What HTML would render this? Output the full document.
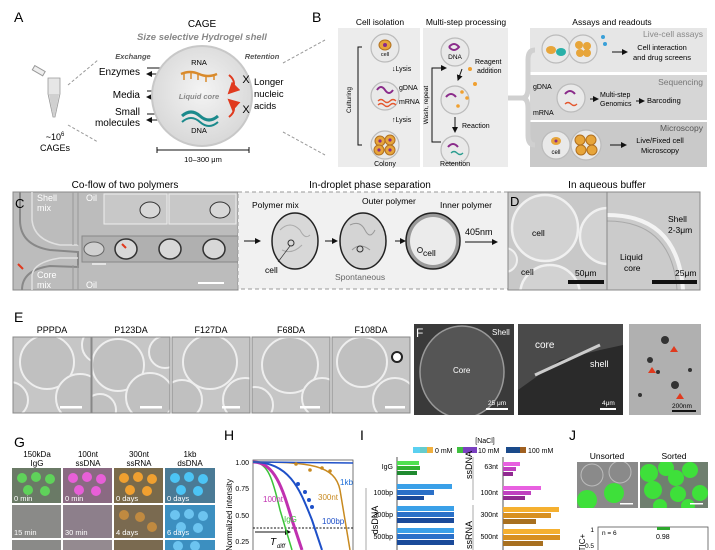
<!DOCTYPE html>
<html><head><meta charset="utf-8"><style>
html,body{margin:0;padding:0;background:#fff;}
svg{display:block;font-family:"Liberation Sans",Arial,sans-serif;}
</style></head><body>
<svg width="715" height="550" viewBox="0 0 715 550" xmlns="http://www.w3.org/2000/svg">
<defs>
<marker id="ah" markerWidth="6" markerHeight="6" refX="5" refY="3" orient="auto"><path d="M0,0 L6,3 L0,6 z" fill="#111"/></marker>
<marker id="ahr" markerWidth="6" markerHeight="6" refX="5" refY="3" orient="auto"><path d="M0,0 L6,3 L0,6 z" fill="#e03a1e"/></marker>
<radialGradient id="cg" cx="50%" cy="45%" r="55%"><stop offset="0" stop-color="#f4f4f4"/><stop offset="1" stop-color="#d8d8d8"/></radialGradient>
<clipPath id="cD1"><rect x="508" y="192" width="99" height="98"/></clipPath>
<clipPath id="cD2"><rect x="607" y="192" width="93" height="98"/></clipPath>
<clipPath id="cE1"><rect x="13" y="337" width="78" height="76"/></clipPath>
<clipPath id="cE2"><rect x="92" y="337" width="78" height="76"/></clipPath>
<clipPath id="cE3"><rect x="172" y="337" width="78" height="76"/></clipPath>
<clipPath id="cE4"><rect x="252" y="337" width="78" height="76"/></clipPath>
<clipPath id="cE5"><rect x="332" y="337" width="78" height="76"/></clipPath>
<clipPath id="cF1"><rect x="414" y="324" width="100" height="91"/></clipPath>
<clipPath id="cG"><rect x="12" y="468" width="203" height="82"/></clipPath>
<clipPath id="cJ1"><rect x="577" y="462" width="61" height="46"/></clipPath>
<clipPath id="cJ2"><rect x="640" y="462" width="68" height="46"/></clipPath>
</defs>

<!-- ===== Panel A ===== -->
<text x="14" y="22" font-size="14">A</text>
<text x="202" y="27" font-size="10" text-anchor="middle">CAGE</text>
<text x="202" y="40" font-size="9.5" text-anchor="middle" font-style="italic" font-weight="bold" fill="#888">Size selective Hydrogel shell</text>
<g transform="translate(38,72)">
<rect x="-6" y="-4" width="12" height="5" fill="#eee" stroke="#999" transform="rotate(30)"/>
<path d="M10,6 L22,6 L22,22 L17,45 L15,45 L10,22 Z" fill="#e6e6e6" stroke="#999" stroke-width="0.8"/>
<path d="M11,22 L21,22 L17,44 L15,44 Z" fill="#d0d0d0"/>
</g>
<text x="55" y="140" font-size="9" text-anchor="middle">~10<tspan font-size="6" dy="-4">6</tspan></text>
<text x="55" y="151" font-size="9" text-anchor="middle">CAGEs</text>
<line x1="68" y1="85" x2="98" y2="60" stroke="#999" stroke-dasharray="3,2"/>
<line x1="68" y1="125" x2="98" y2="142" stroke="#999" stroke-dasharray="3,2"/>
<text x="133" y="59" font-size="7.5" font-style="italic" font-weight="bold" fill="#555" text-anchor="middle">Exchange</text>
<text x="262" y="59" font-size="7.5" font-style="italic" font-weight="bold" fill="#555" text-anchor="middle">Retention</text>
<text x="140" y="75" font-size="10" text-anchor="end">Enzymes</text>
<text x="140" y="98" font-size="10" text-anchor="end">Media</text>
<text x="140" y="115" font-size="10" text-anchor="end">Small</text>
<text x="140" y="126" font-size="10" text-anchor="end">molecules</text>
<g stroke="#111" stroke-width="1">
<line x1="147" y1="68" x2="170" y2="68" marker-end="url(#ah)"/><line x1="170" y1="74" x2="147" y2="74" marker-end="url(#ah)"/>
<line x1="147" y1="91" x2="170" y2="91" marker-end="url(#ah)"/><line x1="170" y1="97" x2="147" y2="97" marker-end="url(#ah)"/>
<line x1="147" y1="114" x2="170" y2="114" marker-end="url(#ah)"/><line x1="170" y1="120" x2="147" y2="120" marker-end="url(#ah)"/>
</g>
<circle cx="202" cy="96" r="50" fill="url(#cg)" stroke="#c8c8c8" stroke-width="2"/>
<text x="199" y="65" font-size="7.5" text-anchor="middle">RNA</text>
<path d="M181,74 q9,-4 18,0 q9,4 18,0" fill="none" stroke="#d98a2b" stroke-width="2.5"/>
<g stroke="#d98a2b" stroke-width="1.5"><line x1="184" y1="74" x2="184" y2="80"/><line x1="191" y1="73" x2="191" y2="79"/><line x1="198" y1="74" x2="198" y2="80"/><line x1="206" y1="76" x2="206" y2="82"/><line x1="214" y1="74" x2="214" y2="80"/></g>
<text x="199" y="99" font-size="7.5" font-style="italic" font-weight="bold" fill="#888" text-anchor="middle">Liquid core</text>
<path d="M182,116 q9,-8 18,0 q9,8 18,0" fill="none" stroke="#1b8a8c" stroke-width="3"/>
<path d="M182,122 q9,-8 18,0 q9,8 18,0" fill="none" stroke="#1b8a8c" stroke-width="2"/>
<text x="199" y="133" font-size="7.5" text-anchor="middle">DNA</text>
<path d="M229,75 q10,8 0,18" fill="none" stroke="#e03a1e" stroke-width="2" marker-end="url(#ahr)"/>
<path d="M229,117 q10,-8 0,-17" fill="none" stroke="#e03a1e" stroke-width="2" marker-end="url(#ahr)"/>
<text x="246" y="83" font-size="11" text-anchor="middle">X</text>
<text x="246" y="113" font-size="11" text-anchor="middle">X</text>
<text x="254" y="85" font-size="9.5">Longer</text>
<text x="254" y="97" font-size="9.5">nucleic</text>
<text x="254" y="109" font-size="9.5">acids</text>
<g stroke="#111"><line x1="157" y1="150" x2="249" y2="150"/><line x1="157" y1="147" x2="157" y2="153"/><line x1="249" y1="147" x2="249" y2="153"/></g>
<text x="203" y="162" font-size="7.5" text-anchor="middle">10–300 μm</text>
<line x1="283" y1="63" x2="325" y2="40" stroke="#999" stroke-dasharray="3,2"/>
<line x1="283" y1="132" x2="325" y2="155" stroke="#999" stroke-dasharray="3,2"/>

<!-- ===== Panel B ===== -->
<text x="312" y="22" font-size="14">B</text>
<text x="380" y="25" font-size="8.5" text-anchor="middle">Cell isolation</text>
<text x="466" y="25" font-size="8.5" text-anchor="middle">Multi-step processing</text>
<text x="612" y="25" font-size="8.5" text-anchor="middle">Assays and readouts</text>
<rect x="338" y="28" width="82" height="139" fill="#ececec"/>
<rect x="423" y="28" width="85" height="139" fill="#ececec"/>
<rect x="530" y="28" width="177" height="44" fill="#e6e6e6"/>
<rect x="530" y="75" width="177" height="45" fill="#d6d6d6"/>
<rect x="530" y="122" width="177" height="45" fill="#c9c9c9"/>
<path d="M362,47 L358,47 L358,145 L362,145" fill="none" stroke="#111"/>
<text x="351" y="100" font-size="6.5" text-anchor="middle" transform="rotate(-90 351 100)">Culturing</text>
<g fill="#e9e9e9" stroke="#bbb" stroke-width="1.2">
<circle cx="385" cy="48" r="14"/><circle cx="385" cy="96" r="14"/><circle cx="385" cy="145" r="14"/>
<circle cx="455" cy="52" r="14"/><circle cx="455" cy="100" r="14"/><circle cx="455" cy="150" r="14"/>
<circle cx="556" cy="49" r="14"/><circle cx="583" cy="49" r="14"/>
<circle cx="571" cy="98" r="14"/>
<circle cx="556" cy="145" r="14"/><circle cx="586" cy="145" r="15"/>
</g>
<ellipse cx="385" cy="45" rx="6" ry="5" fill="#e7a53a" stroke="#b07020"/><circle cx="385" cy="45" r="2" fill="#8a2b8a"/>
<text x="385" y="56" font-size="5.5" text-anchor="middle">cell</text>
<text x="392" y="71" font-size="7">↓Lysis</text>
<path d="M377,90 q4,-6 8,0 q4,6 8,0" fill="none" stroke="#8a2b8a" stroke-width="2"/>
<path d="M378,101 q3,-3 6,0 q3,3 6,0 q3,-3 6,0" fill="none" stroke="#e4572e" stroke-width="1.3"/>
<path d="M378,105 q3,-3 6,0 q3,3 6,0 q3,-3 6,0" fill="none" stroke="#e4572e" stroke-width="1.3"/>
<text x="399" y="90" font-size="7">gDNA</text>
<text x="399" y="104" font-size="7">mRNA</text>
<text x="392" y="122" font-size="7">↑Lysis</text>
<g fill="#e7a53a" stroke="#b07020"><circle cx="380" cy="141" r="5"/><circle cx="390" cy="140" r="5"/><circle cx="379" cy="150" r="5"/><circle cx="390" cy="150" r="5"/></g>
<g fill="#8a2b8a"><circle cx="380" cy="141" r="1.6"/><circle cx="390" cy="140" r="1.6"/><circle cx="379" cy="150" r="1.6"/><circle cx="390" cy="150" r="1.6"/></g>
<text x="385" y="166" font-size="7" text-anchor="middle">Colony</text>
<path d="M449,47 q5,-6 10,0 q-5,6 -10,0" fill="none" stroke="#8a2b8a" stroke-width="2"/>
<text x="455" y="59" font-size="6.5" text-anchor="middle">DNA</text>
<text x="475" y="64" font-size="7">Reagent</text>
<text x="477" y="73" font-size="7">addition</text>
<path d="M446,97 q5,-6 10,0" fill="none" stroke="#8a2b8a" stroke-width="2"/>
<g fill="#f0a030"><circle cx="462" cy="92" r="1.8"/><circle cx="467" cy="98" r="1.8"/><circle cx="458" cy="106" r="1.8"/><circle cx="470" cy="69" r="2"/><circle cx="475" cy="84" r="2"/></g>
<line x1="462" y1="69" x2="458" y2="80" stroke="#111" marker-end="url(#ah)"/>
<line x1="455" y1="117" x2="455" y2="132" stroke="#111" marker-end="url(#ah)"/>
<text x="462" y="128" font-size="7">Reaction</text>
<path d="M448,147 q5,-6 10,0" fill="none" stroke="#8a2b8a" stroke-width="2"/>
<path d="M451,153 q3,-3 6,0 q3,3 6,0" fill="none" stroke="#2a9d8f" stroke-width="1.3"/>
<text x="455" y="166" font-size="7" text-anchor="middle">Retention</text>
<path d="M441,142 L432,142 L432,68 L446,68" fill="none" stroke="#111" marker-end="url(#ah)"/>
<text x="428" y="105" font-size="6.5" text-anchor="middle" transform="rotate(-90 428 105)">Wash, repeat</text>
<path d="M508,98 L522,98 Q528,98 528,88 L528,60 Q528,50 535,50 M522,98 Q528,98 528,108 L528,135 Q528,145 535,145" fill="none" stroke="#d0d0d0" stroke-width="5"/>
<text x="703" y="37" font-size="8.5" text-anchor="end" fill="#888">Live-cell assays</text>
<ellipse cx="551" cy="50" rx="5" ry="4" fill="#e7a53a"/><ellipse cx="561" cy="52" rx="5" ry="4" fill="#2ab0a8"/>
<g fill="#e7a53a"><circle cx="579" cy="45" r="4"/><circle cx="587" cy="46" r="4"/><circle cx="580" cy="53" r="4"/><circle cx="587" cy="53" r="4"/></g>
<circle cx="603" cy="37" r="2" fill="#39a0d8"/><circle cx="605" cy="44" r="2" fill="#39a0d8"/>
<line x1="612" y1="52" x2="627" y2="52" stroke="#111" marker-end="url(#ah)"/>
<text x="662" y="50" font-size="7.5" text-anchor="middle">Cell interaction</text>
<text x="662" y="60" font-size="7.5" text-anchor="middle">and drug screens</text>
<text x="703" y="85" font-size="8.5" text-anchor="end" fill="#777">Sequencing</text>
<text x="533" y="89" font-size="7">gDNA</text>
<text x="533" y="115" font-size="7">mRNA</text>
<path d="M565,94 q5,-6 10,0" fill="none" stroke="#8a2b8a" stroke-width="2"/>
<path d="M565,104 q3,-3 6,0 q3,3 6,0" fill="none" stroke="#e4572e" stroke-width="1.3"/>
<line x1="590" y1="99" x2="598" y2="99" stroke="#111" marker-end="url(#ah)"/>
<text x="600" y="97" font-size="7">Multi-step</text>
<text x="600" y="106" font-size="7">Genomics</text>
<line x1="636" y1="101" x2="644" y2="101" stroke="#111" marker-end="url(#ah)"/>
<text x="647" y="103" font-size="7.5">Barcoding</text>
<text x="703" y="131" font-size="8.5" text-anchor="end" fill="#555">Microscopy</text>
<ellipse cx="556" cy="141" rx="5" ry="4" fill="#e7a53a"/><circle cx="556" cy="141" r="1.5" fill="#8a2b8a"/>
<text x="556" y="154" font-size="6" text-anchor="middle">cell</text>
<g fill="#e7a53a" stroke="#b07020"><circle cx="580" cy="140" r="5"/><circle cx="591" cy="140" r="5"/><circle cx="581" cy="150" r="5"/><circle cx="592" cy="150" r="5"/></g>
<line x1="610" y1="145" x2="626" y2="145" stroke="#111" marker-end="url(#ah)"/>
<text x="660" y="143" font-size="7.5" text-anchor="middle">Live/Fixed cell</text>
<text x="660" y="153" font-size="7.5" text-anchor="middle">Microscopy</text>

<!-- ===== Row C/D ===== -->
<text x="125" y="188" font-size="10" text-anchor="middle">Co-flow of two polymers</text>
<text x="370" y="188" font-size="10" text-anchor="middle">In-droplet phase separation</text>
<text x="607" y="188" font-size="10" text-anchor="middle">In aqueous buffer</text>
<rect x="13" y="192" width="225" height="98" fill="#bcbcbc" stroke="#888"/>
<path d="M20,192 L20,220 Q20,245 50,250 L78,252 L78,267 L50,266 Q22,270 22,290" fill="none" stroke="#888" stroke-width="2"/>
<path d="M32,192 L32,220 Q34,240 60,245 L78,245 M32,290 L32,275 Q34,262 60,258 L78,258" fill="none" stroke="#e0e0e0" stroke-width="1.5"/>
<line x1="73" y1="192" x2="73" y2="245" stroke="#999"/><line x1="78" y1="192" x2="78" y2="245" stroke="#999"/>
<line x1="73" y1="265" x2="73" y2="290" stroke="#999"/><line x1="78" y1="265" x2="78" y2="290" stroke="#999"/>
<rect x="82" y="236" width="156" height="26" fill="#b0b0b0" stroke="#888"/>
<ellipse cx="94" cy="249" rx="10" ry="7" fill="#d0d0d0" stroke="#666"/>
<ellipse cx="126" cy="249" rx="11" ry="10" fill="#d8d8d8" stroke="#333" stroke-width="1.5"/>
<ellipse cx="170" cy="249" rx="11" ry="10" fill="#d8d8d8" stroke="#333" stroke-width="1.5"/>
<ellipse cx="214" cy="249" rx="11" ry="10" fill="#d8d8d8" stroke="#333" stroke-width="1.5"/>
<rect x="104" y="194" width="63" height="30" fill="#c8c8c8" stroke="#eee"/>
<rect x="169" y="194" width="67" height="30" fill="#c8c8c8" stroke="#eee"/>
<ellipse cx="150" cy="210" rx="10" ry="8" fill="#d8d8d8" stroke="#333"/>
<ellipse cx="220" cy="210" rx="10" ry="8" fill="#d8d8d8" stroke="#333"/>
<text x="15" y="208" font-size="13">C</text>
<text x="37" y="201" font-size="9" fill="#fff">Shell</text><text x="37" y="211" font-size="9" fill="#fff">mix</text>
<text x="37" y="278" font-size="9" fill="#fff">Core</text><text x="37" y="288" font-size="9" fill="#fff">mix</text>
<text x="86" y="201" font-size="9" fill="#fff">Oil</text><text x="86" y="288" font-size="9" fill="#fff">Oil</text>
<line x1="92" y1="264" x2="106" y2="264" stroke="#fff" stroke-width="1.2"/>
<line x1="198" y1="283" x2="224" y2="283" stroke="#fff" stroke-width="2"/>
<path d="M18,264 l5,5" stroke="#e03a1e" stroke-width="2"/><path d="M122,244 l4,4" stroke="#e03a1e" stroke-width="2"/>
<rect x="238" y="192" width="270" height="97" fill="#f1f1f1" stroke="#999" stroke-dasharray="4,3"/>
<text x="252" y="208" font-size="8.5">Polymer mix</text>
<text x="362" y="204" font-size="8.5">Outer polymer</text>
<text x="440" y="208" font-size="8.5">Inner polymer</text>
<ellipse cx="295" cy="241" rx="23" ry="28" fill="#d8d8d8" stroke="#222" stroke-width="1.5"/>
<path d="M280,230 q10,-10 20,0 q5,10 10,5 M282,250 q10,5 20,-5" fill="none" stroke="#aaa"/>
<circle cx="291" cy="243" r="3" fill="none" stroke="#333"/>
<line x1="290" y1="246" x2="278" y2="262" stroke="#333" stroke-width="0.7"/>
<text x="265" y="273" font-size="8.5">cell</text>
<ellipse cx="363" cy="241" rx="23" ry="28" fill="#d4d4d4" stroke="#222" stroke-width="1.5"/>
<path d="M350,225 q10,-5 15,5 q5,10 10,0 M352,250 q8,-8 18,0" fill="none" stroke="#999"/>
<circle cx="360" cy="249" r="3" fill="none" stroke="#333"/>
<ellipse cx="433" cy="241" rx="27" ry="28" fill="#9a9a9a" stroke="#222" stroke-width="1.5"/>
<ellipse cx="433" cy="241" rx="23" ry="24" fill="#ebebeb"/>
<circle cx="420" cy="250" r="2.5" fill="none" stroke="#333"/>
<text x="423" y="256" font-size="8.5">cell</text>
<line x1="244" y1="241" x2="260" y2="241" stroke="#111" marker-end="url(#ah)"/>
<line x1="325" y1="241" x2="337" y2="241" stroke="#111" marker-end="url(#ah)"/>
<line x1="395" y1="241" x2="405" y2="241" stroke="#111" marker-end="url(#ah)"/>
<text x="465" y="235" font-size="9">405nm</text>
<line x1="465" y1="242" x2="497" y2="242" stroke="#111" marker-end="url(#ah)"/>
<text x="335" y="280" font-size="8.5" fill="#666">Spontaneous</text>
<!-- D -->
<rect x="508" y="192" width="99" height="98" fill="#c8c8c8"/>
<g clip-path="url(#cD1)">
<circle cx="545" cy="228" r="33" fill="#d2d2d2" stroke="#f0f0f0" stroke-width="2.5"/>
<circle cx="608" cy="236" r="28" fill="#d2d2d2" stroke="#f0f0f0" stroke-width="2.5"/>
<circle cx="550" cy="295" r="30" fill="#d2d2d2" stroke="#f0f0f0" stroke-width="2.5"/>
<circle cx="505" cy="260" r="12" fill="#d2d2d2" stroke="#f0f0f0" stroke-width="2"/>
</g>
<rect x="607" y="192" width="93" height="98" fill="#cbcbcb"/>
<g clip-path="url(#cD2)">
<path d="M607,215 Q678,215 683,290" fill="none" stroke="#f3f3f3" stroke-width="4"/>
<path d="M607,221 Q672,221 677,290" fill="none" stroke="#a9a9a9" stroke-width="1"/>
</g>
<rect x="508" y="192" width="192" height="98" fill="none" stroke="#888"/>
<line x1="607" y1="192" x2="607" y2="290" stroke="#888"/>
<text x="510" y="206" font-size="13">D</text>
<text x="532" y="236" font-size="8.5">cell</text>
<text x="521" y="275" font-size="8.5">cell</text>
<text x="575" y="276" font-size="8.5">50μm</text>
<rect x="568" y="280" width="36" height="4" fill="#111"/>
<text x="668" y="222" font-size="8.5">Shell</text><text x="668" y="233" font-size="8.5">2-3μm</text>
<text x="620" y="260" font-size="8.5">Liquid</text><text x="624" y="271" font-size="8.5">core</text>
<text x="675" y="276" font-size="8.5">25μm</text>
<rect x="652" y="280" width="45" height="4" fill="#111"/>

<!-- ===== Row E/F ===== -->
<text x="14" y="322" font-size="14">E</text>
<g font-size="9" text-anchor="middle">
<text x="52" y="333">PPPDA</text><text x="131" y="333">P123DA</text><text x="211" y="333">F127DA</text><text x="291" y="333">F68DA</text><text x="371" y="333">F108DA</text>
</g>
<g fill="#c6c6c6">
<rect x="13" y="337" width="78" height="76"/><rect x="92" y="337" width="78" height="76"/><rect x="172" y="337" width="78" height="76"/><rect x="252" y="337" width="78" height="76"/><rect x="332" y="337" width="78" height="76"/>
</g>
<g fill="#c0c0c0" stroke="#eee" stroke-width="2">
<g clip-path="url(#cE1)"><circle cx="47" cy="362" r="27"/><circle cx="80" cy="398" r="24"/><circle cx="100" cy="345" r="18"/><circle cx="10" cy="400" r="18"/></g>
<g clip-path="url(#cE2)"><circle cx="118" cy="365" r="26"/><circle cx="150" cy="397" r="24"/><circle cx="165" cy="352" r="16"/><circle cx="100" cy="410" r="16"/></g>
<g clip-path="url(#cE3)"><circle cx="210" cy="362" r="27"/><circle cx="182" cy="400" r="20"/><circle cx="245" cy="400" r="22"/></g>
<g clip-path="url(#cE4)"><circle cx="290" cy="365" r="28"/><circle cx="322" cy="398" r="20"/><circle cx="255" cy="405" r="18"/></g>
<g clip-path="url(#cE5)"><circle cx="362" cy="362" r="25"/><circle cx="395" cy="400" r="22"/></g>
</g>
<rect x="13" y="337" width="78" height="76" fill="none" stroke="#888"/><rect x="92" y="337" width="78" height="76" fill="none" stroke="#888"/><rect x="172" y="337" width="78" height="76" fill="none" stroke="#888"/><rect x="252" y="337" width="78" height="76" fill="none" stroke="#888"/><rect x="332" y="337" width="78" height="76" fill="none" stroke="#888"/>
<circle cx="397" cy="357" r="5" fill="#fff" stroke="#222" stroke-width="2"/>
<g fill="#fff"><rect x="60" y="406" width="22" height="2.5"/><rect x="140" y="406" width="22" height="2.5"/><rect x="222" y="406" width="18" height="2.5"/><rect x="300" y="406" width="20" height="2.5"/><rect x="385" y="406" width="20" height="2.5"/></g>
<rect x="414" y="324" width="100" height="91" fill="#3a3a3a"/>
<g clip-path="url(#cF1)"><ellipse cx="462" cy="372" rx="42" ry="46" fill="#555" stroke="#999" stroke-width="1.5"/></g>
<rect x="518" y="324" width="105" height="91" fill="#4a4a4a"/>
<path d="M518,390 L560,360 L600,350 L623,345 L623,415 L518,415 Z" fill="#2a2a2a"/>
<path d="M535,375 L600,345" stroke="#ccc" stroke-width="3"/>
<rect x="629" y="324" width="72" height="91" fill="#b0b0b0"/>
<g fill="#333"><circle cx="650" cy="360" r="3"/><circle cx="665" cy="340" r="4"/><circle cx="675" cy="385" r="4"/><circle cx="640" cy="395" r="2"/><circle cx="690" cy="370" r="2"/><circle cx="658" cy="372" r="2"/></g>
<g fill="#e03a1e"><path d="M670,352 l4,-6 l4,6 z"/><path d="M648,373 l4,-6 l4,6 z"/><path d="M676,399 l4,-6 l4,6 z"/></g>
<text x="416" y="337" font-size="12" fill="#fff">F</text>
<text x="492" y="335" font-size="8" fill="#fff">Shell</text>
<text x="453" y="373" font-size="8" fill="#fff">Core</text>
<text x="535" y="348" font-size="10" fill="#fff">core</text>
<text x="590" y="367" font-size="9" fill="#fff">shell</text>
<text x="488" y="405" font-size="6.5" fill="#fff">25 μm</text><rect x="486" y="408" width="22" height="2" fill="#fff"/>
<text x="602" y="405" font-size="6.5" fill="#fff">4μm</text><rect x="600" y="408" width="16" height="2" fill="#fff"/>
<text x="672" y="408" font-size="6.5">200nm</text><rect x="672" y="410" width="24" height="2" fill="#111"/>

<!-- ===== Row G ===== -->
<text x="14" y="447" font-size="14">G</text>
<g font-size="8" text-anchor="middle">
<text x="37" y="457">150kDa</text><text x="37" y="466">IgG</text>
<text x="88" y="457">100nt</text><text x="88" y="466">ssDNA</text>
<text x="139" y="457">300nt</text><text x="139" y="466">ssRNA</text>
<text x="190" y="457">1kb</text><text x="190" y="466">dsDNA</text>
</g>
<g clip-path="url(#cG)">
<rect x="12" y="468" width="49" height="35" fill="#6a7a66"/><rect x="63" y="468" width="49" height="35" fill="#8a6a82"/><rect x="114" y="468" width="49" height="35" fill="#7a6a4a"/><rect x="165" y="468" width="50" height="35" fill="#4a7a95"/>
<rect x="12" y="505" width="49" height="33" fill="#8a8a88"/><rect x="63" y="505" width="49" height="33" fill="#8d7f8b"/><rect x="114" y="505" width="49" height="33" fill="#7a6a50"/><rect x="165" y="505" width="50" height="33" fill="#3c8fc0"/>
<rect x="12" y="540" width="49" height="10" fill="#8a8a88"/><rect x="63" y="540" width="49" height="10" fill="#948a90"/><rect x="114" y="540" width="49" height="10" fill="#7a6a50"/><rect x="165" y="540" width="50" height="10" fill="#3c8fc0"/>
<g fill="#5fd25a"><circle cx="22" cy="478" r="5"/><circle cx="36" cy="477" r="5"/><circle cx="50" cy="479" r="5"/><circle cx="28" cy="490" r="5"/><circle cx="45" cy="491" r="5"/></g>
<g fill="#e85fd8"><circle cx="73" cy="478" r="5"/><circle cx="87" cy="477" r="5"/><circle cx="101" cy="479" r="5"/><circle cx="79" cy="490" r="5"/><circle cx="96" cy="491" r="5"/></g>
<g fill="#f0a030"><circle cx="124" cy="478" r="5"/><circle cx="138" cy="477" r="5"/><circle cx="152" cy="479" r="5"/><circle cx="130" cy="490" r="5"/><circle cx="147" cy="491" r="5"/></g>
<g fill="#4cc4f5"><circle cx="175" cy="478" r="5"/><circle cx="189" cy="477" r="5"/><circle cx="203" cy="479" r="5"/><circle cx="181" cy="490" r="5"/><circle cx="198" cy="491" r="5"/></g>
<g fill="#6cc4f0"><circle cx="175" cy="515" r="5"/><circle cx="189" cy="514" r="5"/><circle cx="203" cy="516" r="5"/><circle cx="181" cy="527" r="5"/><circle cx="198" cy="528" r="5"/><circle cx="178" cy="546" r="5"/><circle cx="195" cy="546" r="5"/></g>
<g fill="#c08a40"><circle cx="124" cy="515" r="5"/><circle cx="140" cy="517" r="5"/><circle cx="152" cy="527" r="5"/></g>
</g>
<g font-size="7.5" fill="#fff"><text x="14" y="501">0 min</text><text x="65" y="501">0 min</text><text x="116" y="501">0 days</text><text x="167" y="501">0 days</text>
<text x="14" y="535">15 min</text><text x="65" y="535">30 min</text><text x="116" y="535">4 days</text><text x="167" y="535">6 days</text></g>

<!-- ===== H ===== -->
<text x="224" y="440" font-size="14">H</text>
<rect x="253" y="460" width="100" height="95" fill="none" stroke="#555" stroke-width="0.8"/>
<g font-size="7" text-anchor="end"><text x="249" y="465">1.00</text><text x="249" y="491">0.75</text><text x="249" y="518">0.50</text><text x="249" y="544">0.25</text></g>
<text x="232" y="515" font-size="8" text-anchor="middle" transform="rotate(-90 232 515)">Normalized intensity</text>
<line x1="253" y1="528" x2="353" y2="528" stroke="#111" stroke-dasharray="2,1.5"/>
<line x1="255" y1="532" x2="290" y2="532" stroke="#111" marker-end="url(#ah)"/>
<text x="270" y="545" font-size="10" font-style="italic">T</text><text x="277" y="548" font-size="6" font-style="italic">diff</text>
<path d="M253,462 C268,462 273,480 280,510 L292,550" fill="none" stroke="#3cc43a" stroke-width="1.5"/>
<path d="M253,462 C275,462 283,490 292,520 L302,550" fill="none" stroke="#c030b0" stroke-width="3"/>
<path d="M253,462 C290,462 300,490 312,520 L322,550" fill="none" stroke="#1e50c8" stroke-width="2"/>
<path d="M253,462 C310,462 335,465 340,490 L350,550" fill="none" stroke="#c88a20" stroke-width="1.5"/>
<path d="M253,462 L353,463" stroke="#1e50c8" stroke-width="1.5"/>
<g fill="#c88a20"><circle cx="296" cy="464" r="1.8"/><circle cx="310" cy="470" r="1.8"/><circle cx="322" cy="468" r="1.8"/><circle cx="330" cy="471" r="1.8"/></g>
<g fill="#1e50c8"><circle cx="298" cy="484" r="2"/><circle cx="305" cy="492" r="2"/><circle cx="309" cy="500" r="2"/><circle cx="312" cy="507" r="2"/></g>
<text x="340" y="485" font-size="8" fill="#1e6ed8">1kb</text>
<text x="318" y="500" font-size="8" fill="#c88a20">300nt</text>
<text x="263" y="502" font-size="8" fill="#c030b0">100nt</text>
<text x="284" y="522" font-size="8" fill="#3cc43a">IgG</text>
<text x="322" y="524" font-size="8" fill="#1e50c8">100bp</text>

<!-- ===== I ===== -->
<text x="360" y="440" font-size="14">I</text>
<text x="485" y="443" font-size="7" text-anchor="middle">[NaCl]</text>
<rect x="413" y="447" width="20" height="6" fill="#6cc"/><rect x="413" y="447" width="7" height="6" fill="#5ad0f0"/><rect x="427" y="447" width="6" height="6" fill="#f0b040"/><text x="435" y="453" font-size="7">0 mM</text>
<rect x="457" y="447" width="20" height="6" fill="#7a40c0"/><rect x="457" y="447" width="6" height="6" fill="#40c040"/><text x="478" y="453" font-size="7">10 mM</text>
<rect x="506" y="447" width="20" height="6" fill="#1a4a8a"/><rect x="520" y="447" width="6" height="6" fill="#a06020"/><text x="528" y="453" font-size="7">100 mM</text>
<line x1="397" y1="457" x2="397" y2="550" stroke="#555"/>
<line x1="503" y1="457" x2="503" y2="550" stroke="#555"/>
<line x1="366" y1="488" x2="366" y2="550" stroke="#aaa"/>
<line x1="473" y1="457" x2="473" y2="500" stroke="#aaa"/><line x1="473" y1="505" x2="473" y2="550" stroke="#aaa"/>
<g font-size="7" text-anchor="end"><text x="393" y="469">IgG</text><text x="393" y="495">100bp</text><text x="393" y="517">300bp</text><text x="393" y="539">500bp</text>
<text x="498" y="469">63nt</text><text x="498" y="495">100nt</text><text x="498" y="517">300nt</text><text x="498" y="539">500nt</text></g>
<text x="378" y="520" font-size="9" text-anchor="middle" transform="rotate(-90 378 520)">dsDNA</text>
<text x="472" y="465" font-size="9" text-anchor="middle" transform="rotate(-90 472 465)">ssDNA</text>
<text x="472" y="535" font-size="9" text-anchor="middle" transform="rotate(-90 472 535)">ssRNA</text>
<rect x="397" y="461" width="22" height="4" fill="#50e050"/><rect x="397" y="466" width="23" height="4" fill="#30b030"/><rect x="397" y="471" width="20" height="4" fill="#208a30"/>
<rect x="397" y="484" width="55" height="5" fill="#3aa0e8"/><rect x="397" y="490" width="37" height="5" fill="#2a70c8"/><rect x="397" y="496" width="27" height="4" fill="#1a4a9a"/>
<rect x="397" y="506" width="57" height="5" fill="#3aa0e8"/><rect x="397" y="512" width="57" height="5" fill="#2a70c8"/><rect x="397" y="518" width="57" height="5" fill="#1a4a9a"/>
<rect x="397" y="528" width="57" height="5" fill="#3aa0e8"/><rect x="397" y="534" width="57" height="5" fill="#2a70c8"/><rect x="397" y="540" width="57" height="5" fill="#1a4a9a"/>
<rect x="503" y="462" width="17" height="4" fill="#e860e0"/><rect x="503" y="467" width="13" height="4" fill="#c040c0"/><rect x="503" y="472" width="10" height="4" fill="#902a90"/>
<rect x="503" y="486" width="38" height="4" fill="#e860e0"/><rect x="503" y="491" width="28" height="4" fill="#c040c0"/><rect x="503" y="496" width="22" height="4" fill="#902a90"/>
<rect x="503" y="507" width="56" height="5" fill="#f5b030"/><rect x="503" y="513" width="48" height="5" fill="#d89020"/><rect x="503" y="519" width="33" height="5" fill="#a87020"/>
<rect x="503" y="529" width="57" height="5" fill="#f5b030"/><rect x="503" y="535" width="57" height="5" fill="#d89020"/><rect x="503" y="541" width="40" height="5" fill="#a87020"/>

<!-- ===== J ===== -->
<text x="569" y="440" font-size="14">J</text>
<text x="607" y="459" font-size="8.5" text-anchor="middle">Unsorted</text>
<text x="674" y="459" font-size="8.5" text-anchor="middle">Sorted</text>
<rect x="577" y="462" width="61" height="46" fill="#8a8a8a"/>
<g clip-path="url(#cJ1)">
<g fill="none" stroke="#bbb"><circle cx="592" cy="475" r="11"/><circle cx="620" cy="472" r="11"/></g>
<circle cx="587" cy="500" r="10" fill="#3ee03a"/><circle cx="614" cy="493" r="10" fill="#3ee03a"/>
</g>
<rect x="620" y="503" width="13" height="1.5" fill="#fff"/>
<rect x="640" y="462" width="68" height="46" fill="#6f7f6f"/>
<g clip-path="url(#cJ2)" fill="#3ee03a"><circle cx="649" cy="473" r="9"/><circle cx="666" cy="468" r="8"/><circle cx="676" cy="478" r="8"/><circle cx="690" cy="470" r="8"/><circle cx="653" cy="490" r="9"/><circle cx="678" cy="494" r="8"/><circle cx="700" cy="493" r="8"/><circle cx="660" cy="506" r="7"/><circle cx="688" cy="506" r="7"/></g>
<rect x="690" y="503" width="13" height="1.5" fill="#fff"/>
<rect x="598" y="527" width="110" height="30" fill="#fff" stroke="#555" stroke-width="0.8"/>
<text x="594" y="532" font-size="6.5" text-anchor="end">1</text>
<text x="594" y="548" font-size="6.5" text-anchor="end">0.5</text>
<text x="585" y="545" font-size="8" text-anchor="middle" transform="rotate(-90 585 545)">FTIC+</text>
<text x="602" y="535" font-size="6.5">n = 6</text>
<rect x="657" y="527" width="13" height="3" fill="#2ea82e"/>
<text x="656" y="539" font-size="7">0.98</text>
</svg>
</body></html>
